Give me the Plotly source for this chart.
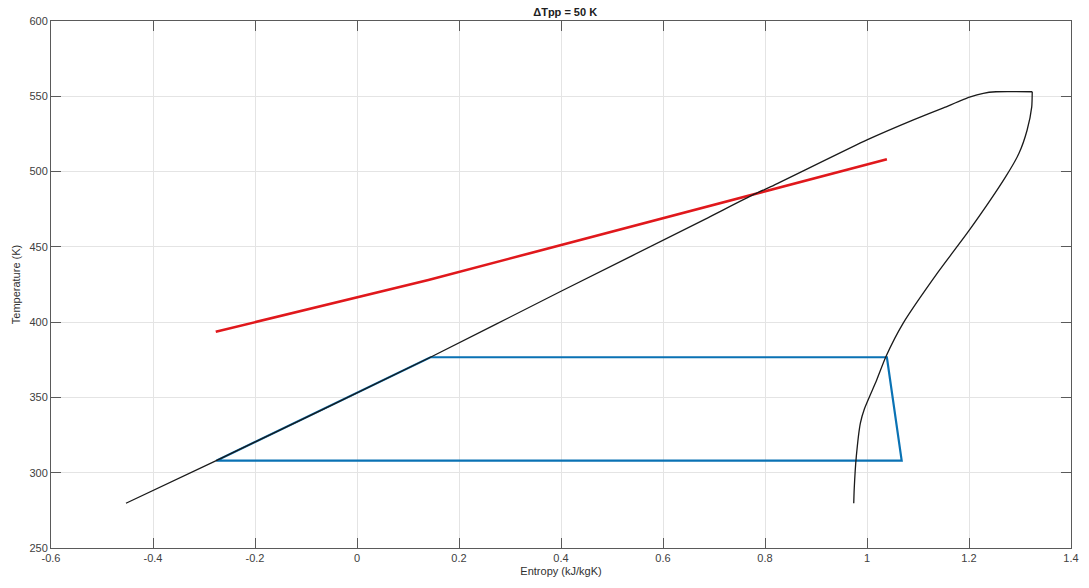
import plotly.graph_objects as go

# Saturation dome: liquid branch up to the critical region (incl. flat top),
# then vapour branch down
liq_s = [-0.453, -0.276, 0.144, 0.40, 0.682, 0.779, 0.818, 1.0, 1.091, 1.15, 1.201, 1.228, 1.253, 1.324]
liq_T = [279.7, 308.0, 376.7, 420.5, 468.3, 485.0, 491.0, 521.0, 534.3, 542.3, 549.4, 552.0, 553.0, 553.0]

vap_s = [1.324, 1.323, 1.314, 1.298, 1.272, 1.201, 1.140, 1.071, 1.037, 1.019,
         0.995, 0.987, 0.979, 0.975, 0.974]
vap_T = [553.0, 543.0, 527.6, 512.1, 496.6, 461.2, 433.5, 399.3, 377.0, 361.6,
         342.5, 333.0, 310.7, 289.7, 279.7]

# Heat source profile
source_s = [-0.277, 0.14, 1.039]
source_T = [393.6, 428.0, 508.2]

# ORC working-fluid cycle
cycle_s = [-0.276, 0.144, 1.039, 1.068, -0.276]
cycle_T = [308.0, 376.7, 376.7, 308.0, 308.0]

x_ticks = [-0.6, -0.4, -0.2, 0, 0.2, 0.4, 0.6, 0.8, 1, 1.2, 1.4]
y_ticks = [250, 300, 350, 400, 450, 500, 550, 600]

FONT = "Liberation Sans, Arial, sans-serif"

fig = go.Figure()
fig.add_trace(go.Scatter(x=source_s, y=source_T, mode="lines",
                         line=dict(color="#e0181c", width=2.6), showlegend=False))
fig.add_trace(go.Scatter(x=cycle_s, y=cycle_T, mode="lines",
                         line=dict(color="#0a72b4", width=2.2), showlegend=False))
fig.add_trace(go.Scatter(x=liq_s, y=liq_T, mode="lines",
                         line=dict(color="#1a1a1a", width=1.3, shape="spline", smoothing=0.5),
                         showlegend=False))
fig.add_trace(go.Scatter(x=vap_s, y=vap_T, mode="lines",
                         line=dict(color="#1a1a1a", width=1.3, shape="spline", smoothing=0.6),
                         showlegend=False))

axis_common = dict(
    showgrid=True, gridcolor="#e4e4e4", gridwidth=1,
    zeroline=False,
    showline=True, linecolor="#5a5a5a", linewidth=1, mirror="ticks",
    ticks="inside", ticklen=10, tickcolor="#5a5a5a", tickwidth=1,
    tickfont=dict(family=FONT, size=11, color="#404040"),
)

fig.update_xaxes(range=[-0.6, 1.4], tickvals=x_ticks,
                 ticktext=[f"{v:g}" for v in x_ticks],
                 title=dict(text="Entropy (kJ/kgK)", standoff=4,
                            font=dict(family=FONT, size=11, color="#303030")),
                 **axis_common)
fig.update_yaxes(range=[250, 600], tickvals=y_ticks,
                 title=dict(text="Temperature (K)", standoff=6,
                            font=dict(family=FONT, size=11, color="#303030")),
                 **axis_common)

fig.update_layout(
    width=1089, height=588,
    margin=dict(l=51, r=10, t=21, b=40),
    paper_bgcolor="white", plot_bgcolor="white",
    title=dict(text="<b>ΔTpp = 50 K</b>", x=0.519, xanchor="center", y=0.979, yanchor="middle",
               font=dict(family=FONT, size=11, color="#202020")),
)

fig.write_html("out.html")
